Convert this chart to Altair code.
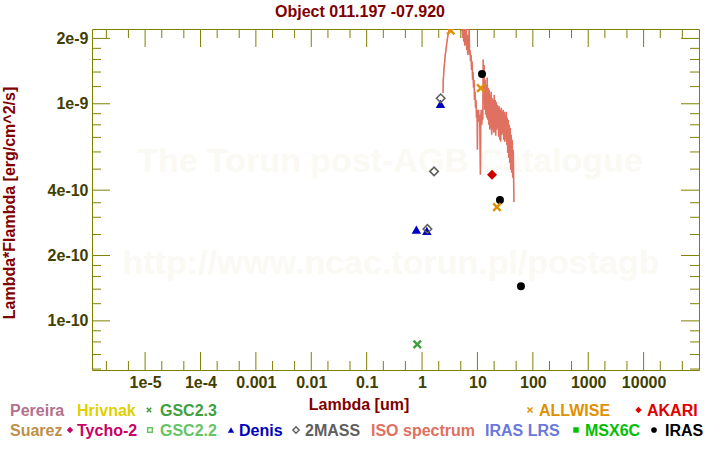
import altair as alt
import pandas as pd

# ---------------- data (wavelength in um, flux in erg/cm^2/s) ----------------
iso_lam = [2.39, 2.41, 2.46, 2.49, 2.57, 2.62, 2.68, 2.74, 2.79, 2.85, 2.91, 2.97, 3.03, 3.10, 3.16,
           3.31, 3.62, 3.89, 4.23, 4.60, 4.65, 4.70, 4.99, 5.14, 5.27, 5.43, 5.54, 5.66, 5.78, 5.90,
           6.02, 6.15, 6.28, 6.41, 6.54, 6.68, 6.82, 6.97, 7.06, 7.21, 7.35, 7.51, 7.67, 7.83, 8.00,
           8.17, 8.33, 8.50, 8.68, 8.86, 9.05, 9.24, 9.43, 9.62, 9.83, 9.99, 10.1, 10.3, 10.5, 10.7,
           11.0, 11.3, 11.5, 11.7, 12.0, 12.2, 12.5, 12.7, 13.0, 13.2, 13.5, 13.8, 14.1, 14.4, 14.7,
           15.0, 15.3, 15.7, 16.0, 16.3, 16.7, 17.0, 17.4, 17.7, 18.1, 18.5, 18.9, 19.3, 19.7, 20.1,
           20.5, 21.0, 21.4, 21.8, 22.3, 22.8, 23.2, 23.7, 24.2, 24.7, 25.3, 25.8, 26.3, 26.9, 27.5,
           28.0, 28.6, 29.2, 29.8, 30.5, 31.1, 31.8, 32.4, 33.1, 33.8, 34.5, 35.2, 36.0, 36.7, 37.5,
           38.3, 39.1, 39.9, 40.7, 41.6, 42.5, 43.4, 44.3, 45.2, 45.6]
# ISO flux in units of 1e-10
iso_flux = [11.2, 12.9, 13.6, 14.6, 15.7, 16.8, 17.3, 18.3, 18.9, 19.7, 20.4, 21.0, 21.5, 22.0, 22.6,
            24.9, 26.6, 27.7, 27.7, 24.4, 22.0, 24.4, 25.7, 21.7, 23.9, 20.1, 23.1, 19.3, 22.4, 18.5,
            22.0, 18.7, 22.6, 17.7, 20.8, 16.8, 19.7, 18.1, 23.1, 16.8, 17.7, 15.7, 16.8, 14.3, 15.7,
            12.9, 14.0, 11.85, 12.9, 10.4, 11.36, 9.58, 10.4, 8.62, 9.38, 6.14, 9.18, 8.44, 9.38, 8.26,
            8.90, 4.71, 8.62, 9.38, 8.00, 9.18, 8.44, 16.0, 11.0, 15.1, 9.38, 12.9, 8.90, 12.2, 8.62,
            13.2, 8.44, 11.85, 8.00, 11.6, 7.59, 11.0, 7.75, 11.36, 7.20, 10.6, 7.59, 10.4, 7.35, 11.0,
            7.43, 10.4, 7.12, 10.2, 7.59, 9.89, 7.75, 9.58, 7.05, 9.78, 6.83, 9.38, 6.69, 9.58, 7.20,
            9.18, 7.35, 9.38, 6.83, 9.18, 6.69, 8.90, 6.83, 9.18, 6.47, 8.62, 5.94, 8.44, 5.64, 8.00,
            5.35, 7.75, 4.97, 7.20, 4.81, 6.83, 4.56, 6.14, 4.24, 3.53]

gsc23_lam = [0.82]
gsc23_flux = [7.8e-11]
denis_lam = [0.79, 1.22, 2.15]
denis_flux = [2.63e-10, 2.60e-10, 1.0e-9]
tmass_lam = [1.25, 1.65, 2.17]
tmass_flux = [2.65e-10, 4.88e-10, 1.06e-9]
allwise_lam = [3.3, 11.5, 22.5]
allwise_flux = [2.17e-9, 1.18e-9, 3.34e-10]
akari_lam = [18.3]
akari_flux = [4.71e-10]
iras_lam = [12.1, 25.5, 61.0]
iras_flux = [1.37e-9, 3.60e-10, 1.445e-10]

x_tick_values = [1e-5, 1e-4, 1e-3, 1e-2, 1e-1, 1, 10, 100, 1000, 10000]
x_tick_labels = ["1e-5", "1e-4", "0.001", "0.01", "0.1", "1", "10", "100", "1000", "10000"]
x_minor = [2e-6, 5e-6, 2e-5, 5e-5, 2e-4, 5e-4, 2e-3, 5e-3, 2e-2, 5e-2, 0.2, 0.5, 2, 5,
           20, 50, 200, 500, 2000, 5000, 2e4, 5e4]
y_tick_values = [1e-10, 2e-10, 4e-10, 1e-9, 2e-9]
y_tick_labels = ["1e-10", "2e-10", "4e-10", "1e-9", "2e-9"]
y_minor = [6e-11, 7e-11, 8e-11, 9e-11, 1.2e-10, 1.4e-10, 1.6e-10, 1.8e-10, 2.5e-10, 3e-10,
           3.5e-10, 5e-10, 6e-10, 7e-10, 8e-10, 9e-10, 1.2e-9, 1.4e-9, 1.6e-9, 1.8e-9]

# ---------------- layout / style ----------------
W, H = 607, 341
PL, PT = 92, 29
FONT = "Liberation Sans"
OLIVE = "#808000"
MAROON = "#800000"
LABEL = "#404000"
XPATH = "M-1,-1L1,1M-1,1L1,-1"

xs = alt.Scale(type="log", domain=[1.1e-6, 1e5], nice=False)
ys = alt.Scale(type="log", domain=[5.94e-11, 2.21e-9], nice=False)


def lab_expr(vals, labs):
    parts = [f"abs(datum.value/{v!r} - 1) < 1e-6 ? '{l}'" for v, l in zip(vals, labs)]
    return " : ".join(parts) + " : ''"


x_axis = alt.Axis(values=x_tick_values, labelExpr=lab_expr(x_tick_values, x_tick_labels),
                  ticks=False, tickSize=0, domain=False, grid=False,
                  labelFont=FONT, labelFontSize=16, labelFontWeight="bold", labelColor=LABEL,
                  labelPadding=4, labelFlush=False, labelOverlap=False, title=None)
y_axis = alt.Axis(values=y_tick_values, labelExpr=lab_expr(y_tick_values, y_tick_labels),
                  ticks=False, tickSize=0, domain=False, grid=False,
                  labelFont=FONT, labelFontSize=16, labelFontWeight="bold", labelColor=LABEL,
                  labelPadding=4, labelFlush=False, labelOverlap=False, title=None)

one = pd.DataFrame({"a": [0]})
layers = []


def txt_layer(text, ax, ay, color, size=16, align="left", baseline="alphabetic", angle=0):
    return alt.Chart(one).mark_text(text=text, font=FONT, fontSize=size, fontWeight="bold",
                                    color=color, align=align, baseline=baseline, angle=angle).encode(
        x=alt.value(ax - PL), y=alt.value(ay - PT))


# watermark
layers.append(txt_layer("The Torun post-AGB Catalogue", 390, 162, "#fbf9f3", 34, "center", "middle"))
layers.append(txt_layer("http://www.ncac.torun.pl/postagb", 391, 264, "#fbf9f3", 34, "center", "middle"))

# ISO spectrum
iso = pd.DataFrame({"lam": iso_lam, "flux": [v * 1e-10 for v in iso_flux], "i": list(range(len(iso_lam)))})
layers.append(alt.Chart(iso).mark_line(color="#e07060", strokeWidth=1.6, clip=True).encode(
    x=alt.X("lam:Q", scale=xs, axis=x_axis),
    y=alt.Y("flux:Q", scale=ys, axis=y_axis),
    order="i:Q"))


# tick marks (inside, on all four sides)
def xticks(vals, length):
    d = pd.DataFrame({"lam": vals})
    top = alt.Chart(d).mark_rule(color=OLIVE, strokeWidth=1).encode(
        x=alt.X("lam:Q", scale=xs, axis=x_axis), y=alt.value(0), y2=alt.value(length))
    bot = alt.Chart(d).mark_rule(color=OLIVE, strokeWidth=1).encode(
        x=alt.X("lam:Q", scale=xs, axis=x_axis), y=alt.value(H), y2=alt.value(H - length))
    return [top, bot]


def yticks(vals, length):
    d = pd.DataFrame({"flux": vals})
    left = alt.Chart(d).mark_rule(color=OLIVE, strokeWidth=1).encode(
        y=alt.Y("flux:Q", scale=ys, axis=y_axis), x=alt.value(0), x2=alt.value(length))
    right = alt.Chart(d).mark_rule(color=OLIVE, strokeWidth=1).encode(
        y=alt.Y("flux:Q", scale=ys, axis=y_axis), x=alt.value(W), x2=alt.value(W - length))
    return [left, right]


layers += xticks(x_tick_values, 18) + xticks(x_minor, 9) + yticks(y_tick_values, 18) + yticks(y_minor, 9)


def pts(lam, flux, **mk):
    d = pd.DataFrame({"lam": lam, "flux": flux})
    return alt.Chart(d).mark_point(clip=True, **mk).encode(
        x=alt.X("lam:Q", scale=xs, axis=x_axis), y=alt.Y("flux:Q", scale=ys, axis=y_axis))


layers.append(pts(gsc23_lam, gsc23_flux, shape=XPATH, size=56, filled=False, stroke="#40a040", strokeWidth=2.4, opacity=1))
layers.append(pts(denis_lam, denis_flux, shape="triangle-up", size=90, filled=True, color="#0000c0", opacity=1))
layers.append(pts(tmass_lam, tmass_flux, shape="diamond", size=72, filled=False, stroke="#606060", strokeWidth=1.6, opacity=1))
layers.append(pts(akari_lam, akari_flux, shape="diamond", size=100, filled=True, color="#d00000", opacity=1))
layers.append(pts(iras_lam, iras_flux, shape="circle", size=64, filled=True, color="#000000", opacity=1))
layers.append(pts(allwise_lam, allwise_flux, shape=XPATH, size=56, filled=False, stroke="#e09000", strokeWidth=2.4, opacity=1))

# ---------------- titles ----------------
layers.append(txt_layer("Object 011.197 -07.920", 360, 16.5, MAROON, 16, "center"))
layers.append(txt_layer("Lambda [um]", 359, 410.3, MAROON, 16, "center"))
layers.append(txt_layer("Lambda*Flambda [erg/cm^2/s]", 14.5, 203, MAROON, 16, "center", "alphabetic", 270))

# ---------------- custom legend (two rows under the axis) ----------------
R1, R2 = 415.7, 435.7          # text baselines
S1, S2 = 410, 430              # symbol centres
legend_text = [
    ("Pereira", 10, R1, "#b4708c"), ("Hrivnak", 77, R1, "#e0d000"), ("GSC2.3", 160, R1, "#40a040"),
    ("ALLWISE", 539, R1, "#e09000"), ("AKARI", 647, R1, "#e00000"),
    ("Suarez", 10, R2, "#c09048"), ("Tycho-2", 77, R2, "#c80068"), ("GSC2.2", 160, R2, "#66c466"),
    ("Denis", 239, R2, "#0000c0"), ("2MASS", 305, R2, "#606060"), ("ISO spectrum", 371, R2, "#e07060"),
    ("IRAS LRS", 485, R2, "#6a78dc"), ("MSX6C", 585, R2, "#00c000"), ("IRAS", 665, R2, "#000000"),
]
for t, lx, ly, col in legend_text:
    layers.append(txt_layer(t, lx, ly, col))

legend_sym = [
    (149, S1, XPATH, "#40a040", False, 20), (530, S1, XPATH, "#e09000", False, 25),
    (638.5, S1, "diamond", "#e00000", True, 40), (70, S2, "diamond", "#c80068", True, 40),
    (150, S2, "square", "#66c466", False, 22), (231, S2, "triangle-up", "#0000c0", True, 40),
    (296, S2, "diamond", "#606060", False, 40), (576, S2, "square", "#00c000", True, 30),
    (654, S2, "circle", "#000000", True, 32),
]
for sx, sy, shp, col, fill, sz in legend_sym:
    if fill:
        mk = dict(shape=shp, size=sz, filled=True, color=col, opacity=1)
    else:
        mk = dict(shape=shp, size=sz, filled=False, stroke=col, strokeWidth=1.5, opacity=1)
    layers.append(alt.Chart(one).mark_point(**mk).encode(x=alt.value(sx - PL), y=alt.value(sy - PT)))

chart = alt.layer(*layers).properties(
    width=W, height=H,
    padding={"left": PL, "top": PT, "right": 720 - PL - W, "bottom": 450 - PT - H},
    autosize=alt.AutoSizeParams(type="none"),
    background="white",
).configure_view(stroke=OLIVE, strokeWidth=1)

chart.save("out.html", embed_options={"renderer": "svg", "actions": False})
